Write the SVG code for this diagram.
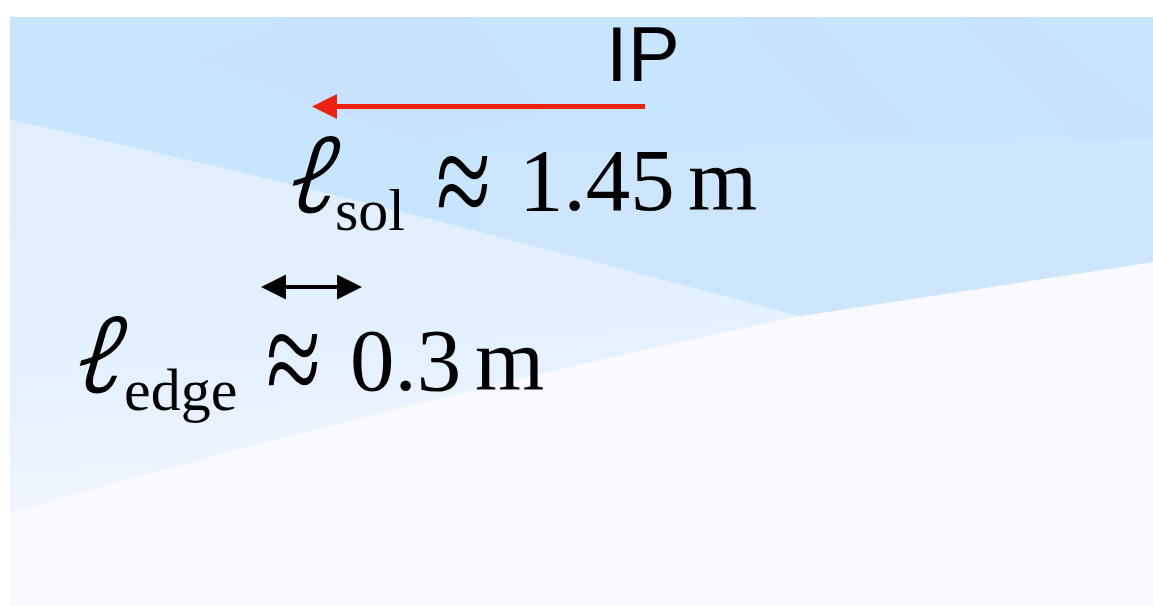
<svg xmlns="http://www.w3.org/2000/svg" width="1153" height="606" viewBox="0 0 1153 606">
  <defs>
    <linearGradient id="fadeLow" x1="0" y1="0" x2="0.15" y2="1">
      <stop offset="0" stop-color="#E0EEFD"/>
      <stop offset="0.6" stop-color="#E3F0FE"/>
      <stop offset="1" stop-color="#F1F5FE"/>
    </linearGradient>
    <marker id="redHead" markerUnits="userSpaceOnUse" markerWidth="26" markerHeight="26" refX="0" refY="12.5" orient="auto">
      <polygon points="0,0 25,12.5 0,25" fill="#EE2211"/>
    </marker>
    <marker id="blkHead" markerUnits="userSpaceOnUse" markerWidth="26" markerHeight="26" refX="0" refY="12.5" orient="auto-start-reverse">
      <polygon points="0,0 25,12.5 0,25" fill="#000000"/>
    </marker>
  </defs>
  <style>
    .math { font-family: "Liberation Serif", "Times New Roman", serif; fill: #000; }
    .big { font-size: 89px; }
    .sub { font-size: 60px; }
    .apx { font-size: 100px; }
    .ell { font-family: "Noto Sans", serif; font-weight: 300; font-size: 104px; fill: #000; stroke: #000; stroke-width: 1.2; }
    .sans { font-family: "Liberation Sans", Arial, sans-serif; fill: #000; }
  </style>

  <rect x="0" y="0" width="1153" height="606" fill="#FFFFFF"/>

  <g id="background">
    <rect x="10" y="17" width="1143" height="589" fill="#F9F9FF"/>
    <path d="M10,120 C200,160 500,235 800,316 Q400,400 10,513 Z" fill="url(#fadeLow)"/>
    <path d="M10,17 L1153,17 L1153,262 L800,316 C500,235 200,160 10,120 Z" fill="#C7E5FC"/>
    <path d="M480,158 L1153,138 L1153,262 L800,316 C680,284 580,258 480,232 Z" fill="#CDE6FD"/>
    <polygon points="290,17 470,17 545,115 420,145 197,60" fill="#C8E2FD"/>
    <polygon points="745,17 813,17 920,140 857,142 760,40" fill="#C8E2FD"/>
    <polygon points="962,17 1025,17 1153,120 1153,138 1078,140" fill="#C8E2FD"/>
  </g>

  <g id="connectors">
    <line id="ip-arrow" x1="645" y1="106.5" x2="337" y2="106.5" stroke="#EE2211" stroke-width="5" marker-end="url(#redHead)"/>
    <line id="edge-arrow" x1="286" y1="287" x2="337" y2="287" stroke="#000" stroke-width="4" marker-start="url(#blkHead)" marker-end="url(#blkHead)"/>
  </g>

  <g id="label-ip">
    <text class="sans" x="606" y="81" font-size="78">IP</text>
  </g>

  <g id="label-lsol">
    <text class="ell" transform="translate(280,212) skewX(-16)" x="0" y="0">ℓ</text>
    <text class="math sub" x="335" y="230">sol</text>
    <text class="math apx" transform="translate(436,186) scale(1,1.4)" x="0" y="30">≈</text>
    <text class="math big" x="519" y="210">1.45</text>
    <text class="math big" x="688" y="210">m</text>
  </g>

  <g id="label-ledge">
    <text class="ell" transform="translate(67,392) skewX(-16)" x="0" y="0">ℓ</text>
    <text class="math sub" x="124" y="410">edge</text>
    <text class="math apx" transform="translate(266,364) scale(1,1.4)" x="0" y="30">≈</text>
    <text class="math big" x="350" y="390">0.3</text>
    <text class="math big" x="475" y="390">m</text>
  </g>
</svg>
